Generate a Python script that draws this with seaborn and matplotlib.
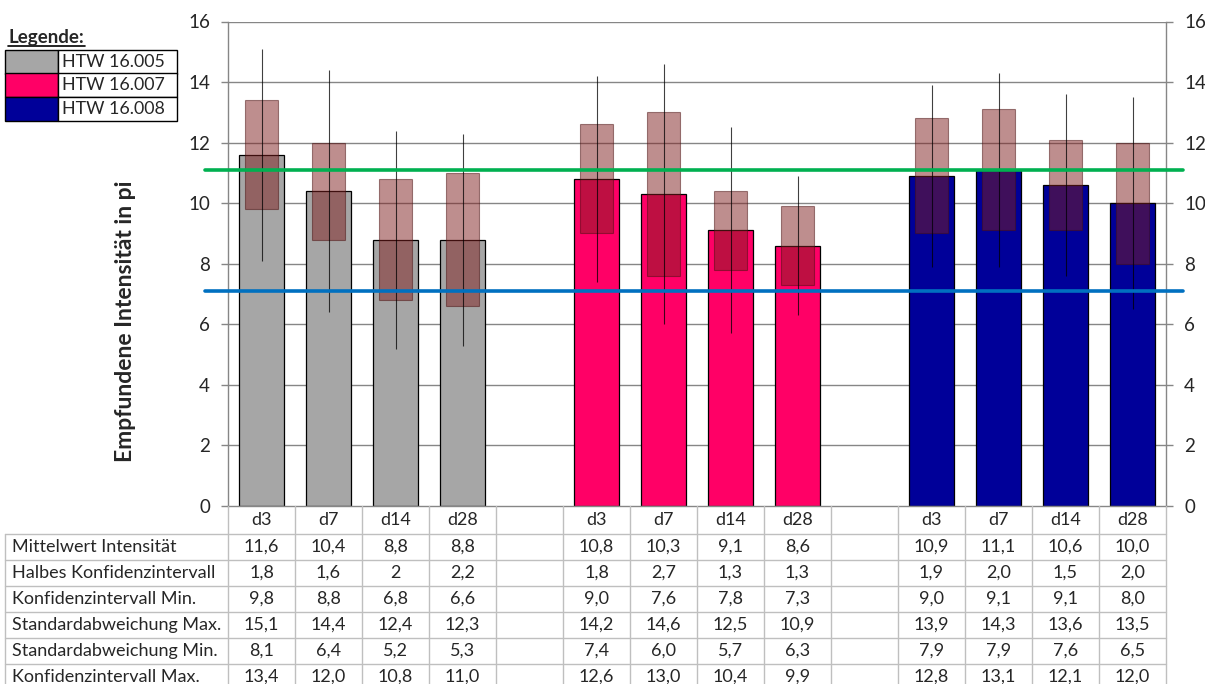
import numpy as np
import pandas as pd
import matplotlib
matplotlib.use('Agg')
import matplotlib.pyplot as plt
import seaborn as sns
from matplotlib.transforms import blended_transform_factory
from matplotlib.patches import Rectangle
from matplotlib.lines import Line2D

# ---------------- data ----------------
groups = ['HTW 16.005', 'HTW 16.007', 'HTW 16.008']
days = ['d3', 'd7', 'd14', 'd28']
group_colors = ['#a6a6a6', '#ff0066', '#000099']

mean_int = [11.6, 10.4, 8.8, 8.8, 10.8, 10.3, 9.1, 8.6, 10.9, 11.1, 10.6, 10.0]
half_ci = [1.8, 1.6, 2, 2.2, 1.8, 2.7, 1.3, 1.3, 1.9, 2.0, 1.5, 2.0]
ci_min = [9.8, 8.8, 6.8, 6.6, 9.0, 7.6, 7.8, 7.3, 9.0, 9.1, 9.1, 8.0]
sd_max = [15.1, 14.4, 12.4, 12.3, 14.2, 14.6, 12.5, 10.9, 13.9, 14.3, 13.6, 13.5]
sd_min = [8.1, 6.4, 5.2, 5.3, 7.4, 6.0, 5.7, 6.3, 7.9, 7.9, 7.6, 6.5]
ci_max = [13.4, 12.0, 10.8, 11.0, 12.6, 13.0, 10.4, 9.9, 12.8, 13.1, 12.1, 12.0]

ref_upper = 11.1
ref_lower = 7.1

row_labels = ['Mittelwert Intensität', 'Halbes Konfidenzintervall', 'Konfidenzintervall Min.',
              'Standardabweichung Max.', 'Standardabweichung Min.', 'Konfidenzintervall Max.']
yticks = [0, 2, 4, 6, 8, 10, 12, 14, 16]

# ---------------- helpers ----------------
def fmt(v):
    if isinstance(v, int):
        return str(v)
    return f'{v:.1f}'.replace('.', ',')

n_days = len(days)
pos = [g * (n_days + 1) + d for g in range(len(groups)) for d in range(n_days)]
df = pd.DataFrame({
    'pos': pos,
    'mean': mean_int,
    'group': [g for g in groups for _ in days],
    'day': days * len(groups),
})

W, H = 1205, 684
sns.set_style('white')
plt.rcParams['font.family'] = ['Lato', 'DejaVu Sans']
fig = plt.figure(figsize=(W / 100, H / 100), dpi=100)

ax_l, ax_r, ax_t, ax_b = 228, 1166, 21.5, 506
ax = fig.add_axes([ax_l / W, 1 - ax_b / H, (ax_r - ax_l) / W, (ax_b - ax_t) / H])

grid_c = '#868686'
for yv in yticks[1:]:
    ax.axhline(yv, color=grid_c, lw=1.0, zorder=0)

sns.barplot(data=df, x='pos', y='mean', hue='group', palette=group_colors,
            hue_order=groups, native_scale=True, dodge=False, width=0.67,
            errorbar=None, edgecolor='black', linewidth=0.9, legend=False,
            saturation=1, ax=ax, zorder=2)

# confidence interval boxes
ci_lo = np.array(ci_min)
ci_hi = np.array(ci_max)
ax.bar(pos, ci_hi - ci_lo, bottom=ci_lo, width=0.5, color='#7f1f1f', alpha=0.5,
       edgecolor='#4a1010', linewidth=0.8, zorder=3)
# standard deviation lines
ax.vlines(pos, sd_min, sd_max, color='black', lw=0.8, alpha=0.75, zorder=4)

# reference lines
ax.axhline(ref_upper, xmin=-0.0245, xmax=1.018, color='#00b050', lw=2.6, zorder=5, clip_on=False)
ax.axhline(ref_lower, xmin=-0.0245, xmax=1.018, color='#0070c0', lw=2.6, zorder=5, clip_on=False)

ax.set_xlim(-0.5, pos[-1] + 0.5)
ax.set_ylim(0, 16)
ax.set_yticks(yticks)
ax.set_xticks([])
ax.set_xlabel('')
ax.set_ylabel('')
ax.tick_params(axis='y', left=True, right=True, labelleft=True, labelright=True,
               direction='out', length=5, width=1, color=grid_c, labelsize=13.5, pad=8)
ax.spines['top'].set_visible(False)
for s in ['left', 'right', 'bottom']:
    ax.spines[s].set_color(grid_c)
    ax.spines[s].set_linewidth(1)

fig.text(125 / W, 1 - 321 / H, 'Empfundene Intensität in pi', rotation=90, ha='center',
         va='center', fontsize=16.5, fontweight='bold')

# ---------------- data table ----------------
tr = blended_transform_factory(ax.transData, fig.transFigure)
fy = lambda y: 1 - y / H
fx = lambda x: x / W
tbl_c = '#bfbfbf'
n_slots = pos[-1] + 1
header_top, header_bot = 506, 534
row_h = 26
n_rows = len(row_labels)
bottom = header_bot + row_h * n_rows
fs_tbl = 13

for k in range(n_slots + 1):
    x = k - 0.5
    fig.add_artist(Line2D([x, x], [fy(header_top), fy(bottom)], transform=tr, color=tbl_c, lw=1))
fig.add_artist(Line2D([fx(5), fx(5)], [fy(header_bot), fy(bottom)], transform=fig.transFigure, color=tbl_c, lw=1))
for r in range(n_rows + 1):
    y = header_bot + r * row_h
    fig.add_artist(Line2D([fx(5), fx(ax_r)], [fy(y), fy(y)], transform=fig.transFigure, color=tbl_c, lw=1))

for p, d in zip(pos, df['day']):
    fig.text(p, fy((header_top + header_bot) / 2), d, transform=tr, ha='center', va='center', fontsize=fs_tbl)

table_rows = [mean_int, half_ci, ci_min, sd_max, sd_min, ci_max]
for r, (lab, vals) in enumerate(zip(row_labels, table_rows)):
    yc = fy(header_bot + r * row_h + row_h / 2)
    fig.text(fx(12), yc, lab, ha='left', va='center', fontsize=fs_tbl)
    for p, v in zip(pos, vals):
        fig.text(p, yc, fmt(v), transform=tr, ha='center', va='center', fontsize=fs_tbl)

# ---------------- legend ----------------
fig.text(fx(8), fy(37), 'Legende:', ha='left', va='center', fontsize=13.5, fontweight='bold')
fig.add_artist(Line2D([fx(8), fx(85)], [fy(46), fy(46)], transform=fig.transFigure, color='black', lw=1.2))
leg_top, leg_rh = 50, 23.5
for i, (g, c) in enumerate(zip(groups, group_colors)):
    y0 = leg_top + i * leg_rh
    fig.add_artist(Rectangle((fx(5), fy(y0 + leg_rh)), fx(58) - fx(5), fy(y0) - fy(y0 + leg_rh),
                             transform=fig.transFigure, facecolor=c, edgecolor='black', lw=1))
    fig.add_artist(Rectangle((fx(58), fy(y0 + leg_rh)), fx(177) - fx(58), fy(y0) - fy(y0 + leg_rh),
                             transform=fig.transFigure, facecolor='white', edgecolor='black', lw=1))
    fig.text(fx(62), fy(y0 + leg_rh / 2), g, ha='left', va='center', fontsize=12.8)

fig.savefig('out.png', dpi=100)
